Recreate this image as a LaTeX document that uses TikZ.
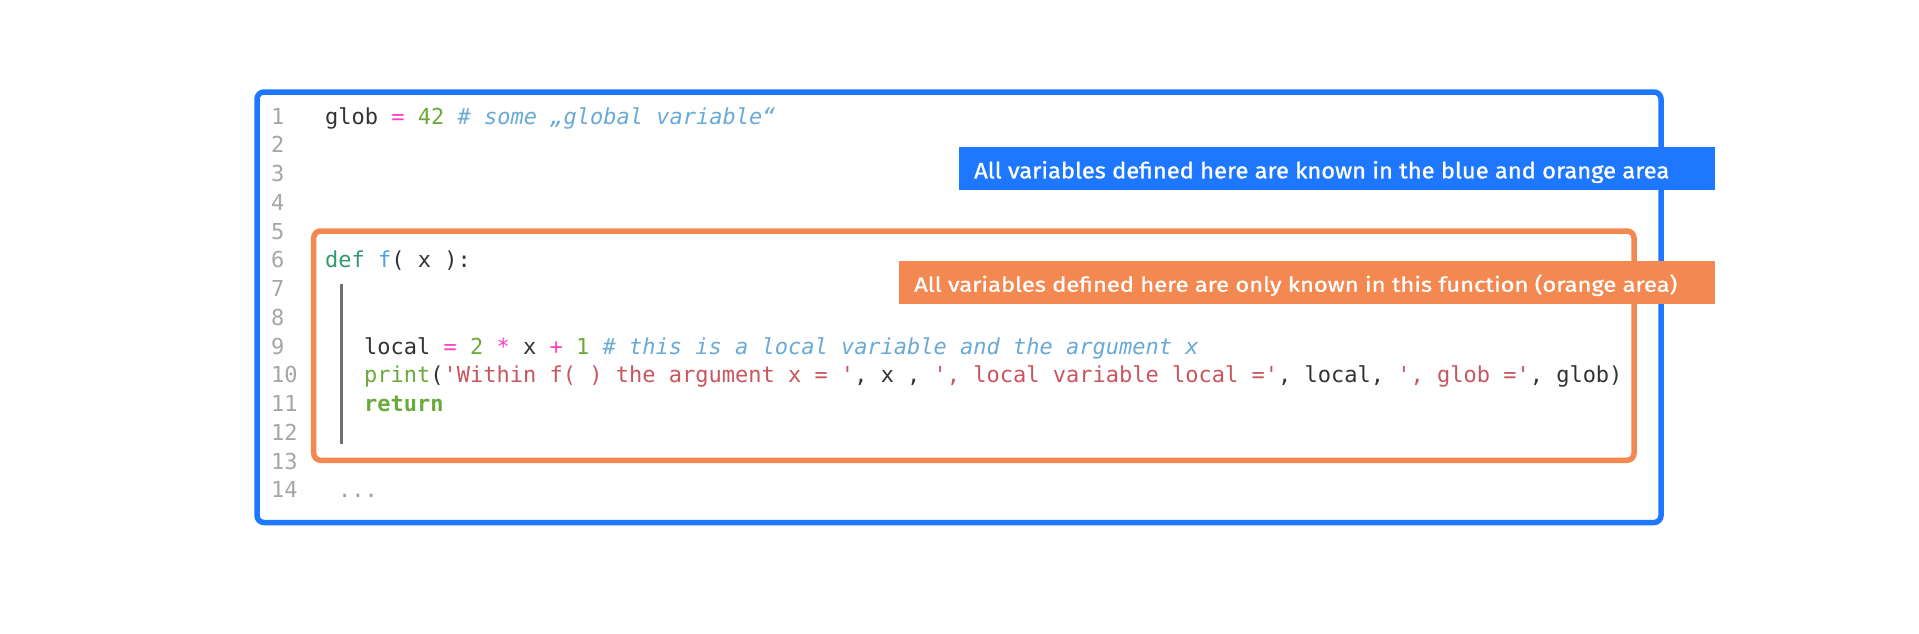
\documentclass[tikz,border=0pt]{standalone}
\usepackage{fontspec}
\usepackage{graphicx}
\setmonofont{DejaVu Sans Mono}
\newfontfamily\lblfont[FakeBold=1]{Fira Sans}
\definecolor{cblue}{HTML}{1E78FF}
\definecolor{corange}{HTML}{F38850}
\definecolor{cdark}{HTML}{333333}
\definecolor{cop}{HTML}{FF40C0}
\definecolor{cnum}{HTML}{6AAB3C}
\definecolor{ccom}{HTML}{6AAAD6}
\definecolor{cdef}{HTML}{2E9A6E}
\definecolor{cfn}{HTML}{4AA3E6}
\definecolor{cstr}{HTML}{C9555E}
\definecolor{clno}{HTML}{A6A6A6}
\definecolor{cbar}{HTML}{707070}
\definecolor{cdots}{HTML}{A0A0A0}
\tikzset{
  code/.style={anchor=base west, inner sep=0pt, font=\ttfamily\fontsize{22pt}{28.75pt}\selectfont, text=cdark},
  lineno/.style={code, text=clno},
  scopebox/.style={line width=5.5pt, rounded corners=7pt},
  lblbox/.style={anchor=north west, inner sep=0pt, minimum height=43pt},
  lbltext/.style={anchor=base west, inner sep=0pt, text=white, font=\lblfont},
  barline/.style={line width=3pt, draw=cbar}
}
\begin{document}
\begin{tikzpicture}[x=1pt,y=-1pt]
\useasboundingbox (0,0) rectangle (1919,634);
\fill[white] (0,0) rectangle (1919,634);
% scope boxes
\draw[scopebox, draw=cblue] (257,92) rectangle (1661,522.5);
\draw[scopebox, draw=corange] (313.7,231) rectangle (1634,460.3);
% line numbers
\foreach \n in {1,...,14} {
  \node[lineno] (ln\n) at (271,{124+(\n-1)*28.75}) {\n};
}
% code
\node[code] (c1) at (325,124) {glob \textcolor{cop}{=} \textcolor{cnum}{42} \textcolor{ccom}{\itshape\# some „global variable“}};
\node[code] (c6) at (325,{124+5*28.75}) {\textcolor{cdef}{def} \textcolor{cfn}{f}( x ):};
\node[code] (c9) at (364,{124+8*28.75}) {local \textcolor{cop}{=} \textcolor{cnum}{2} \textcolor{cop}{*} x \textcolor{cop}{+} \textcolor{cnum}{1} \textcolor{ccom}{\itshape\# this is a local variable and the argument x}};
\node[code] (c10) at (364,{124+9*28.75}) {\textcolor{cnum}{print}(\textcolor{cstr}{'Within f( ) the argument x = '}, x , \textcolor{cstr}{', local variable local ='}, local, \textcolor{cstr}{', glob ='}, glob)};
\node[code] (c11) at (364,{124+10*28.75}) {\textcolor{cnum}{\bfseries return}};
\node[code, text=cdots] (c14) at (338,{124+13*28.75}) {...};
% indentation bar
\coordinate (bartop) at (341.5,284.3);
\coordinate (barbot) at (341.5,444.3);
\draw[barline] (bartop) -- (barbot);
% labels
\node[lblbox, fill=cblue, minimum width=756pt] (lblblue) at (959,147) {};
\node[lbltext] (lblbluetext) at (974,178.3) {\resizebox{695pt}{17.3pt}{All variables defined here are known in the blue and orange area}};
\node[lblbox, fill=corange, minimum width=816pt] (lblorange) at (899,261) {};
\node[lbltext] (lblorangetext) at (914,291.7) {\resizebox{763pt}{17.3pt}{All variables defined here are only known in this function (orange area)}};
\end{tikzpicture}
\end{document}
